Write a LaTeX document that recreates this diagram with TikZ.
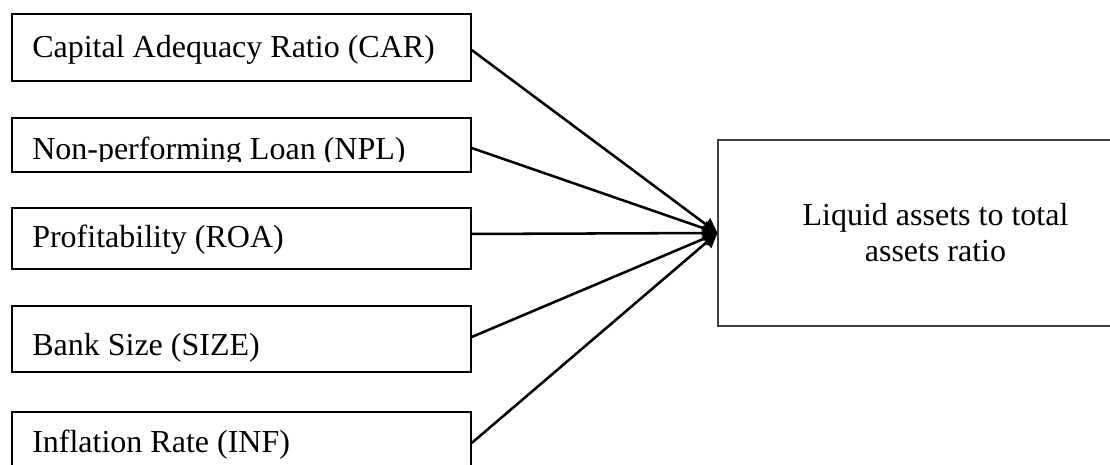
\documentclass[tikz,border=0pt]{standalone}
\usepackage{fontspec}
\setmainfont{Liberation Serif}
\usetikzlibrary{arrows.meta}
\begin{document}
\begin{tikzpicture}[x=0.75pt,y=-0.75pt,
  inbox/.style={draw=black, line width=1.1pt, rectangle, minimum width=344.25pt, inner sep=0pt},
  lbl/.style={anchor=base west, inner sep=0pt, font=\fontsize{24}{28}\selectfont},
  outbox/.style={draw=black!75, line width=0.8pt, rectangle, minimum width=326.25pt, minimum height=139.5pt, inner sep=0pt, align=center, font=\fontsize{24}{27}\selectfont},
  link/.style={line width=1.9pt, -{Triangle[length=11pt,width=11pt]}},
]
\clip (0,0) rectangle (1110,464);
% left boxes
\node[inbox, minimum height=50.25pt] (car) at (241.5,47.5) {};
\node[inbox, minimum height=40.5pt] (npl) at (241.5,145) {};
\node[inbox, minimum height=45.75pt] (roa) at (241.5,238.5) {};
\node[inbox, minimum height=49.5pt] (size) at (241.5,339) {};
\node[inbox, minimum height=46.5pt] (inf) at (241.5,443) {};
% labels
\node[lbl] (tcar) at (32,57) {Capital Adequacy Ratio (CAR)};
\begin{scope}
  \clip (12,118) rectangle (471,161);
  \node[lbl] (tnpl) at (32,159) {Non-performing Loan (NPL)};
\end{scope}
\node[lbl] (troa) at (32,247) {Profitability (ROA)};
\node[lbl] (tsize) at (32,355.5) {Bank Size (SIZE)};
\node[lbl] (tinf) at (32,452.5) {Inflation Rate (INF)};
% outcome box
\node[outbox] (out) at (935.5,233) {Liquid assets to total\\assets ratio};
% connectors
\draw[link] ([yshift=-1.9pt]car.east) -- (out.west);
\draw[link] ([yshift=-2.25pt]npl.east) -- (out.west);
\draw[link] ([yshift=3.4pt]roa.east) -- (out.west);
\draw[link] ([yshift=1.5pt]size.east) -- (out.west);
\draw[link] (inf.east) -- (out.west);
\end{tikzpicture}
\end{document}
